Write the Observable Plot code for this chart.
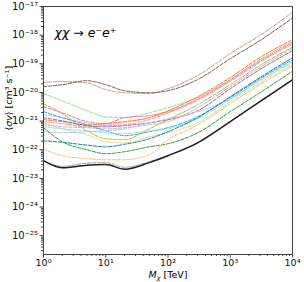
<!DOCTYPE html>
<html><head><meta charset="utf-8">
<script src="https://cdn.jsdelivr.net/npm/d3@7"></script>
<script src="https://cdn.jsdelivr.net/npm/@observablehq/plot@0.6"></script>
<style>body{margin:0;background:#fff}svg{font-family:"DejaVu Sans",sans-serif}</style>
</head><body><div id="chart"></div>
<script>
// Dark-matter mass grid [TeV]
const masses = [1, 2, 5, 10, 20, 50, 100, 300, 1000, 3000, 10000];
// log10 of <sigma v> [cm^3 s^-1]
const lightBrown  = [-19.65, -19.62, -19.67, -19.90, -20.01, -20.04, -19.87, -19.41, -18.64, -18.01, -17.20];
const darkBrown   = [-19.80, -19.73, -19.59, -19.73, -19.94, -20.01, -19.94, -19.55, -18.82, -18.19, -17.40];
const lightGreen  = [-20.04, -20.29, -20.64, -20.85, -20.88, -20.71, -20.53, -20.18, -19.55, -18.89, -18.33];
const olive       = [-20.39, -20.74, -21.34, -21.62, -21.65, -21.27, -20.95, -20.43, -19.73, -19.06, -18.42];
const lightOlive  = [-21.06, -21.27, -21.48, -21.72, -21.76, -21.55, -21.41, -21.06, -20.32, -19.66, -19.03];
const pink        = [-20.50, -20.71, -21.02, -21.09, -20.88, -20.81, -20.67, -20.25, -19.59, -18.92, -18.26];
const lightPink   = [-20.78, -20.88, -21.06, -21.13, -21.06, -20.88, -20.71, -20.29, -19.62, -18.96, -18.29];
const orange      = [-20.95, -21.02, -21.13, -21.09, -21.02, -20.88, -20.64, -20.15, -19.48, -18.78, -18.16];
const lightRed    = [-21.02, -21.09, -21.20, -21.16, -21.13, -20.95, -20.71, -20.22, -19.55, -18.85, -18.22];
const purple      = [-20.88, -20.99, -21.16, -21.20, -21.16, -21.06, -20.95, -20.64, -19.87, -19.20, -18.54];
const lightPurple = [-21.13, -21.20, -21.23, -21.27, -21.23, -21.13, -21.02, -20.53, -19.80, -19.13, -18.47];
const cyan        = [-20.67, -20.88, -21.13, -21.34, -21.51, -21.37, -21.23, -20.85, -20.18, -19.52, -18.86];
const lightCyan   = [-21.20, -21.27, -21.34, -21.41, -21.44, -21.34, -21.27, -20.92, -20.25, -19.59, -18.96];
const lightBlue   = [-21.37, -21.41, -21.37, -21.34, -21.27, -21.06, -20.92, -20.67, -20.22, -19.55, -18.92];
const blue        = [-21.69, -21.74, -21.84, -21.90, -21.81, -21.62, -21.37, -20.88, -20.15, -19.48, -18.79];
const green       = [-21.23, -21.72, -22.00, -22.14, -22.07, -21.90, -21.79, -21.41, -20.67, -20.01, -19.26];
const lightOrange = [-21.97, -22.21, -22.31, -22.35, -22.35, -22.17, -21.65, -21.13, -20.39, -19.73, -19.08];
const gray        = [-22.38, -22.58, -22.47, -22.45, -22.61, -22.42, -22.19, -21.74, -21.01, -20.31, -19.55];
const combined    = [-22.38, -22.63, -22.54, -22.52, -22.68, -22.45, -22.21, -21.76, -21.02, -20.32, -19.56];

const dashed = [
  [lightBrown, "#c49c94"], [darkBrown, "#8c564b"], [lightGreen, "#98df8a"],
  [olive, "#bcbd22"], [lightOlive, "#dbdb8d"], [pink, "#e377c2"], [lightPink, "#f7b6d2"],
  [orange, "#ff7f0e"], [lightRed, "#ff9896"], [purple, "#9467bd"], [lightPurple, "#c5b0d5"],
  [cyan, "#17becf"], [lightCyan, "#9edae5"], [lightBlue, "#aec7e8"], [blue, "#1f77b4"],
  [green, "#2ca02c"], [lightOrange, "#ffbb78"], [gray, "#a0a0a0"]
];
const xMajor = [1, 10, 100, 1000, 10000];
const yMajor = [1e-25, 1e-24, 1e-23, 1e-22, 1e-21, 1e-20, 1e-19, 1e-18, 1e-17];

const toRows = vals => masses.map((m, i) => ({m, v: Math.pow(10, vals[i])}));
const supMap = {"-":"⁻","0":"⁰","1":"¹","2":"²","3":"³","4":"⁴","5":"⁵","6":"⁶","7":"⁷","8":"⁸","9":"⁹"};
const pow10 = d => "10" + String(Math.round(Math.log10(d))).split("").map(c => supMap[c]).join("");
const minorOf = (lo, hi) => { const out = []; for (let e = lo; e < hi; e++) for (let k = 2; k <= 9; k++) out.push(k * Math.pow(10, e)); return out; };
const xMinor = minorOf(0, 4);
const yMinor = minorOf(-26, -17).filter(v => v >= 2.2e-26 && v <= 1e-17);
const blank = () => "";

const marks = [
  Plot.axisX({ticks: xMinor, tickFormat: blank, tickSize: 2, stroke: "#444", label: null}),
  Plot.axisX({ticks: xMajor, tickFormat: pow10, tickSize: 3.5, tickPadding: 1.5, fontSize: 9.5, stroke: "#444", fill: "#111", label: null}),
  Plot.axisY({ticks: yMinor, tickFormat: blank, tickSize: 2, stroke: "#444", label: null}),
  Plot.axisY({ticks: yMajor, tickFormat: pow10, tickSize: 3.5, tickPadding: 2, fontSize: 10, stroke: "#444", fill: "#111", label: null}),
];
for (const [vals, color] of dashed) {
  marks.push(Plot.line(toRows(vals), {x: "m", y: "v", stroke: color, strokeWidth: 1, strokeDasharray: "3.5,1.5", curve: "monotone-x"}));
}
marks.push(Plot.line(toRows(combined), {x: "m", y: "v", stroke: "#222", strokeWidth: 1.5, curve: "monotone-x"}));
marks.push(Plot.frame({stroke: "#444", strokeWidth: 1}));
marks.push(Plot.text(["TITLE"], {frameAnchor: "top-left", dx: 11, dy: 26, text: d => d, fontSize: 12.5, textAnchor: "start", lineAnchor: "middle", fill: "#000"}));
marks.push(Plot.text(["YLAB"], {frameAnchor: "left", dx: -35, rotate: -90, text: d => d, fontSize: 9.5, fill: "#000"}));
marks.push(Plot.text(["XLAB"], {frameAnchor: "bottom", dy: 20.5, text: d => d, fontSize: 9.5, fill: "#000", lineAnchor: "middle"}));

const svg = Plot.plot({
  width: 304, height: 282,
  marginTop: 6, marginRight: 12, marginBottom: 28, marginLeft: 43,
  x: {type: "log", domain: [1, 1e4]},
  y: {type: "log", domain: [2.2e-26, 1e-17]},
  style: {fontFamily: "DejaVu Sans, sans-serif", background: "#fff"},
  marks
});

// rich text for labels
const sel = d3.select(svg).selectAll("text");
sel.filter(function(){ return this.textContent === "TITLE"; }).each(function(){
  const t = d3.select(this).text("");
  t.append("tspan").attr("font-style", "italic").text("χχ");
  t.append("tspan").text(" → ");
  t.append("tspan").attr("font-style", "italic").text("e");
  t.append("tspan").text("⁻");
  t.append("tspan").attr("font-style", "italic").text("e");
  t.append("tspan").text("⁺");
});
sel.filter(function(){ return this.textContent === "YLAB"; }).each(function(){
  const t = d3.select(this).text("");
  t.append("tspan").text("⟨");
  t.append("tspan").attr("font-style", "italic").text("σv");
  t.append("tspan").text("⟩ [cm³ s⁻¹]");
});
sel.filter(function(){ return this.textContent === "XLAB"; }).each(function(){
  const t = d3.select(this).text("");
  t.append("tspan").attr("font-style", "italic").text("M");
  t.append("tspan").attr("font-style", "italic").attr("font-size", 6.5).attr("dy", 2).text("χ");
  t.append("tspan").attr("dy", -2).text(" [TeV]");
});
document.getElementById("chart").append(svg);
</script></body></html>
